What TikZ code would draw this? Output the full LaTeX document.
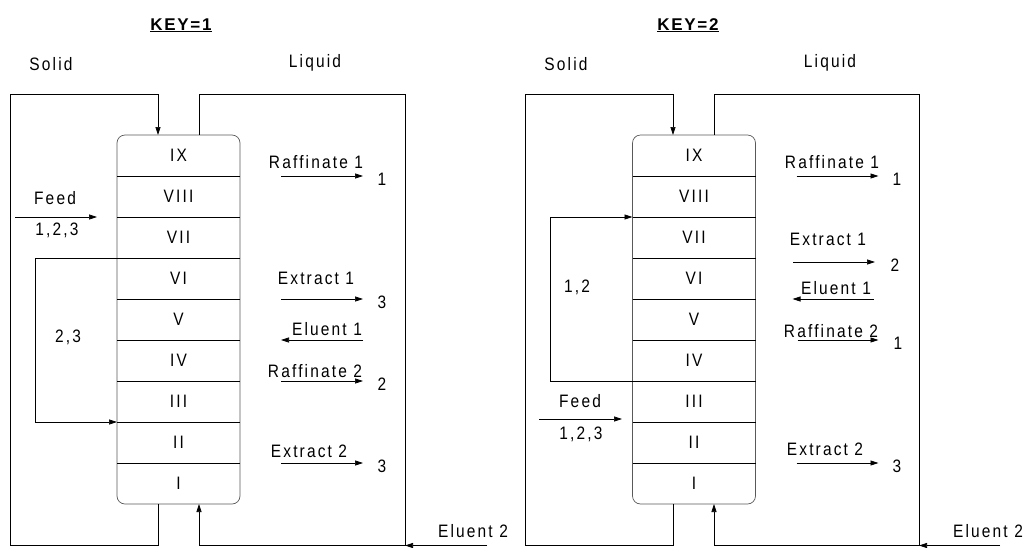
\documentclass[tikz,border=0pt]{standalone}
\usepackage{fontspec}
\setmainfont{Liberation Sans}[FakeStretch=0.86,LetterSpace=12]
\newfontfamily\keyfont{Liberation Sans}[LetterSpace=10]
\usetikzlibrary{arrows.meta,positioning,fit}
\tikzset{
  cell/.style={minimum width=123pt, minimum height=41pt, inner sep=0pt, outer sep=0pt},
  column/.style={draw=black!65, rounded corners=8pt, inner sep=0pt, outer sep=0pt},
  lbl/.style={inner sep=0pt, anchor=base},
  title/.style={inner sep=0pt, anchor=base, font=\keyfont\fontsize{17}{20}\selectfont\bfseries},
  line/.style={-{Triangle[length=8pt,width=5pt]}}
}

\begin{document}
\begin{tikzpicture}[x=1pt, y=-1pt, font=\fontsize{18}{20}\selectfont, line width=0.7pt]
  \useasboundingbox (0,0) rectangle (1026,547);

  % KEY=1
  \node[title] (keyA) at (181,30) {\underline{KEY=1}};
  \node[lbl] (solidA) at (51,70) {Solid};
  \node[lbl] (liquidA) at (315,67) {Liquid};

  \node[cell] (a9) at (178.5,155.5) {IX};
  \node[cell, below=0pt of a9] (a8) {VIII};
  \node[cell, below=0pt of a8] (a7) {VII};
  \node[cell, below=0pt of a7] (a6) {VI};
  \node[cell, below=0pt of a6] (a5) {V};
  \node[cell, below=0pt of a5] (a4) {IV};
  \node[cell, below=0pt of a4] (a3) {III};
  \node[cell, below=0pt of a3] (a2) {II};
  \node[cell, below=0pt of a2] (a1) {I};
  \node[column, fit=(a9)(a1)] (colA) {};
  \foreach \i in {2,...,9} \draw (a\i.south west) -- (a\i.south east);

  \coordinate (solA) at (158,94);
  \coordinate (frameA) at (10,545.5);
  \coordinate (liqA) at (199,94);
  \coordinate (cornA) at (405,94);
  \coordinate (botA) at (405,545.5);
  \coordinate (el2A) at (487,545.5);
  \draw[line] (colA.south -| solA) |- (frameA) |- (solA) -- (colA.north -| solA);
  \draw[line] (colA.north -| liqA) -- (liqA) -- (cornA) -- (botA) -| (colA.south -| liqA);
  \draw[line] (el2A) -- (botA);
  \node[lbl] (eluent2A) at (473,537) {Eluent 2};

  \coordinate (feedA) at (15,217);
  \draw[line] (feedA) -- ([xshift=-20pt]a8.south west);
  \node[lbl] (feedlabA) at (55,204) {Feed};
  \node[lbl] (feedcompA) at (57,235) {1,2,3};

  \coordinate (rcA) at (35,258);
  \draw[line] (a7.south east) -- (rcA) |- (a2.north west);
  \node[lbl] (rclabA) at (68,342) {2,3};

  \draw[line] ([xshift=41pt]a9.south east) -- ([xshift=123pt]a9.south east);
  \node[lbl] (raf1A) at (316,168) {Raffinate 1};
  \node[lbl] (raf1nA) at (382,185) {1};
  \draw[line] ([xshift=41pt]a6.south east) -- ([xshift=123pt]a6.south east);
  \node[lbl] (ext1A) at (316,284) {Extract 1};
  \node[lbl] (ext1nA) at (382,308) {3};
  \draw[line] ([xshift=123pt]a5.south east) -- ([xshift=41pt]a5.south east);
  \node[lbl] (el1A) at (327,335) {Eluent 1};
  \draw[line] ([xshift=41pt]a4.south east) -- ([xshift=123pt]a4.south east);
  \node[lbl] (raf2A) at (315,377) {Raffinate 2};
  \node[lbl] (raf2nA) at (382,390) {2};
  \draw[line] ([xshift=41pt]a2.south east) -- ([xshift=123pt]a2.south east);
  \node[lbl] (ext2A) at (309,457) {Extract 2};
  \node[lbl] (ext2nA) at (382,472) {3};

  % KEY=2
  \node[title] (keyB) at (688,30) {\underline{KEY=2}};
  \node[lbl] (solidB) at (566,70) {Solid};
  \node[lbl] (liquidB) at (830,67) {Liquid};

  \node[cell] (b9) at (694,155.5) {IX};
  \node[cell, below=0pt of b9] (b8) {VIII};
  \node[cell, below=0pt of b8] (b7) {VII};
  \node[cell, below=0pt of b7] (b6) {VI};
  \node[cell, below=0pt of b6] (b5) {V};
  \node[cell, below=0pt of b5] (b4) {IV};
  \node[cell, below=0pt of b4] (b3) {III};
  \node[cell, below=0pt of b3] (b2) {II};
  \node[cell, below=0pt of b2] (b1) {I};
  \node[column, fit=(b9)(b1)] (colB) {};
  \foreach \i in {2,...,9} \draw (b\i.south west) -- (b\i.south east);

  \coordinate (solB) at (673,94);
  \coordinate (frameB) at (525,545.5);
  \coordinate (liqB) at (714,94);
  \coordinate (cornB) at (919,94);
  \coordinate (botB) at (919,545.5);
  \coordinate (el2B) at (1000,545.5);
  \draw[line] (colB.south -| solB) |- (frameB) |- (solB) -- (colB.north -| solB);
  \draw[line] (colB.north -| liqB) -- (liqB) -- (cornB) -- (botB) -| (colB.south -| liqB);
  \draw[line] (el2B) -- (botB);
  \node[lbl] (eluent2B) at (988,537) {Eluent 2};

  \coordinate (rcB) at (550,381);
  \draw[line] (b4.south east) -- (rcB) |- (b7.north west);
  \node[lbl] (rclabB) at (577,292) {1,2};

  \coordinate (feedB) at (539,419);
  \coordinate (feedendB) at (622,419);
  \draw[line] (feedB) -- (feedendB);
  \node[lbl] (feedlabB) at (580,407) {Feed};
  \node[lbl] (feedcompB) at (581,439) {1,2,3};

  \draw[line] ([xshift=41pt]b9.south east) -- ([xshift=123pt]b9.south east);
  \node[lbl] (raf1B) at (832,168) {Raffinate 1};
  \node[lbl] (raf1nB) at (897,185) {1};
  \coordinate (ext1sB) at (793,262);
  \coordinate (ext1eB) at (875,262);
  \draw[line] (ext1sB) -- (ext1eB);
  \node[lbl] (ext1B) at (828,245) {Extract 1};
  \node[lbl] (ext1nB) at (895,271) {2};
  \draw[line] ([xshift=118pt]b6.south east) -- ([xshift=37pt]b6.south east);
  \node[lbl] (el1B) at (836,294) {Eluent 1};
  \draw[line] ([xshift=42pt]b5.south east) -- ([xshift=123pt]b5.south east);
  \node[lbl] (raf2B) at (831,337) {Raffinate 2};
  \node[lbl] (raf2nB) at (898,349) {1};
  \draw[line] ([xshift=41pt]b2.south east) -- ([xshift=123pt]b2.south east);
  \node[lbl] (ext2B) at (825,455) {Extract 2};
  \node[lbl] (ext2nB) at (897,472) {3};
\end{tikzpicture}
\end{document}
